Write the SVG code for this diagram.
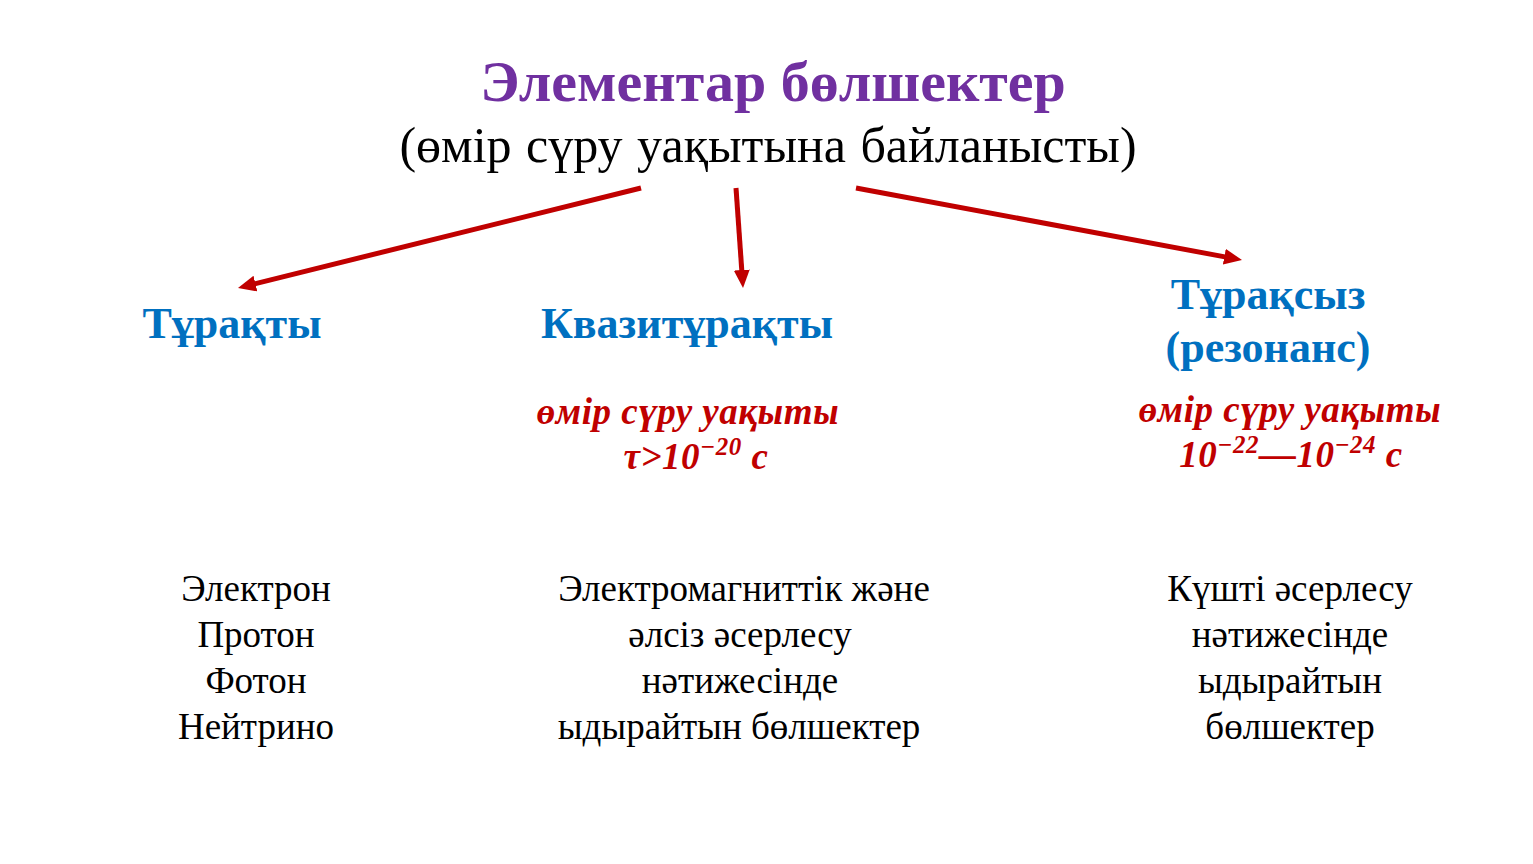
<svg xmlns="http://www.w3.org/2000/svg" width="1533" height="864" viewBox="0 0 1533 864">
<style>
text{font-family:"Liberation Serif","Times New Roman",serif;text-anchor:middle}
.title{font-size:58px;font-weight:bold;fill:#7030A0}
.sub{font-size:50px;fill:#000;word-spacing:2px}
.head{font-size:44px;font-weight:bold;fill:#0070C0}
.red{font-size:37px;font-weight:bold;font-style:italic;fill:#C00000;letter-spacing:0.5px}
.sup{font-size:25px}
.body{font-size:37px;fill:#000}
.conn{stroke:#C00000;stroke-width:5;fill:none}
</style>
<defs>
<marker id="ah" markerUnits="userSpaceOnUse" markerWidth="20" markerHeight="18" refX="2" refY="8" orient="auto">
<path d="M0,0 L18,8 L0,16 z" fill="#C00000"/>
</marker>
</defs>
<rect width="1533" height="864" fill="#fff"/>
<g id="root">
<text class="title" x="773" y="101">Элементар бөлшектер</text>
<text class="sub" x="768" y="162">(өмір сүру уақытына  байланысты)</text>
</g>
<g id="connectors">
<line class="conn" x1="641" y1="188" x2="253.5" y2="284.1" marker-end="url(#ah)"/>
<line class="conn" x1="736" y1="188" x2="741.9" y2="272" marker-end="url(#ah)"/>
<line class="conn" x1="856" y1="188" x2="1226.3" y2="257.1" marker-end="url(#ah)"/>
</g>
<g id="stable">
<text class="head" x="232" y="338">Тұрақты</text>
<text class="body" x="256" y="601">Электрон</text>
<text class="body" x="256" y="647">Протон</text>
<text class="body" x="256" y="693">Фотон</text>
<text class="body" x="256" y="739">Нейтрино</text>
</g>
<g id="quasistable">
<text class="head" x="687" y="338">Квазитұрақты</text>
<text class="red" x="688" y="424">өмір сүру уақыты</text>
<text class="red" x="696" y="469">τ&gt;10<tspan class="sup" dy="-14">−20</tspan><tspan dy="14"> с</tspan></text>
<text class="body" x="744" y="601">Электромагниттік  және</text>
<text class="body" x="740" y="647">әлсіз әсерлесу</text>
<text class="body" x="740" y="693">нәтижесінде</text>
<text class="body" x="739" y="739">ыдырайтын бөлшектер</text>
</g>
<g id="unstable">
<text class="head" x="1268" y="309">Тұрақсыз</text>
<text class="head" x="1268" y="362">(резонанс)</text>
<text class="red" x="1290" y="422">өмір сүру уақыты</text>
<text class="red" x="1291" y="467">10<tspan class="sup" dy="-14">−22</tspan><tspan dy="14">—10</tspan><tspan class="sup" dy="-14">−24</tspan><tspan dy="14"> с</tspan></text>
<text class="body" x="1290" y="601">Күшті әсерлесу</text>
<text class="body" x="1290" y="647">нәтижесінде</text>
<text class="body" x="1290" y="693">ыдырайтын</text>
<text class="body" x="1290" y="739">бөлшектер</text>
</g>
</svg>
